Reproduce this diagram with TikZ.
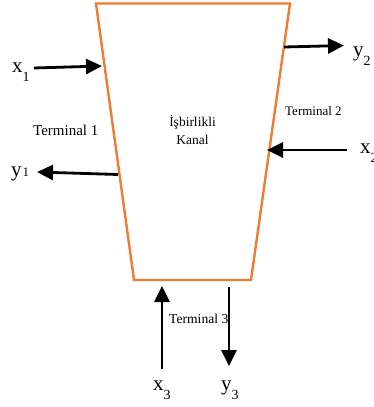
\documentclass[tikz,border=0pt]{standalone}
\usepackage{fontspec}
\setmainfont{Liberation Serif}
\usetikzlibrary{arrows.meta}
\definecolor{chanorange}{HTML}{ED7D31}
\tikzset{
  chan/.style={draw=chanorange, line width=2.4pt, line join=miter},
  sig/.style={line width=2.8pt, -{Triangle[length=16pt,width=15pt]}},
  lbl/.style={inner sep=0pt, anchor=base west, font=\fontsize{21}{21}\selectfont},
  term/.style={inner sep=0pt, anchor=base west},
  mid/.style={inner sep=0pt, anchor=base, font=\fontsize{13.5}{13.5}\selectfont}
}
\newcommand{\lowsub}[1]{\raisebox{-9pt}{\fontsize{14}{14}\selectfont #1}}
\newcommand{\flatsub}[1]{\kern1pt{\fontsize{13}{13}\selectfont #1}}
\begin{document}
\begin{tikzpicture}[x=1pt,y=-1pt]
\useasboundingbox (0,0) rectangle (373,407);
% channel
\draw[chan] (96,3.5) -- (290,3.5) -- (251,280) -- (134,280) -- cycle;
% texts
\node[mid] (c1) at (192.5,126) {İşbirlikli};
\node[mid] (c2) at (192.5,144.5) {Kanal};
\node[term, font=\fontsize{15}{15}\selectfont] (t1) at (33,135) {Terminal 1};
\node[term, font=\fontsize{13}{13}\selectfont] (t2) at (285,115) {Terminal 2};
\node[term, font=\fontsize{13.6}{13.6}\selectfont] (t3) at (169,323) {Terminal 3};
% signal labels
\node[lbl] (x1) at (12,72) {x\lowsub{1}};
\node[lbl] (y1) at (11,176) {y\flatsub{1}};
\node[lbl] (y2) at (353,56) {y\lowsub{2}};
\node[lbl] (x2) at (360,153) {x\lowsub{2}};
\node[lbl] (x3) at (153,390) {x\lowsub{3}};
\node[lbl] (y3) at (221,390) {y\lowsub{3}};
% arrow end points
\coordinate (x1s) at (34,68);
\coordinate (x1e) at (102,66);
\coordinate (y1s) at (118,174.5);
\coordinate (y1e) at (37,172);
\coordinate (y2s) at (284,47);
\coordinate (y2e) at (344,45.5);
\coordinate (x2s) at (347,150);
\coordinate (x2e) at (267,150);
\coordinate (x3s) at (162,369);
\coordinate (x3e) at (162,286);
\coordinate (y3s) at (229,287);
\coordinate (y3e) at (229,366);
% arrows
\draw[sig] (x1s) -- (x1e);
\draw[sig] (y1s) -- (y1e);
\draw[sig] (y2s) -- (y2e);
\draw[sig] (x2s) -- (x2e);
\draw[sig] (x3s) -- (x3e);
\draw[sig] (y3s) -- (y3e);
\end{tikzpicture}
\end{document}
